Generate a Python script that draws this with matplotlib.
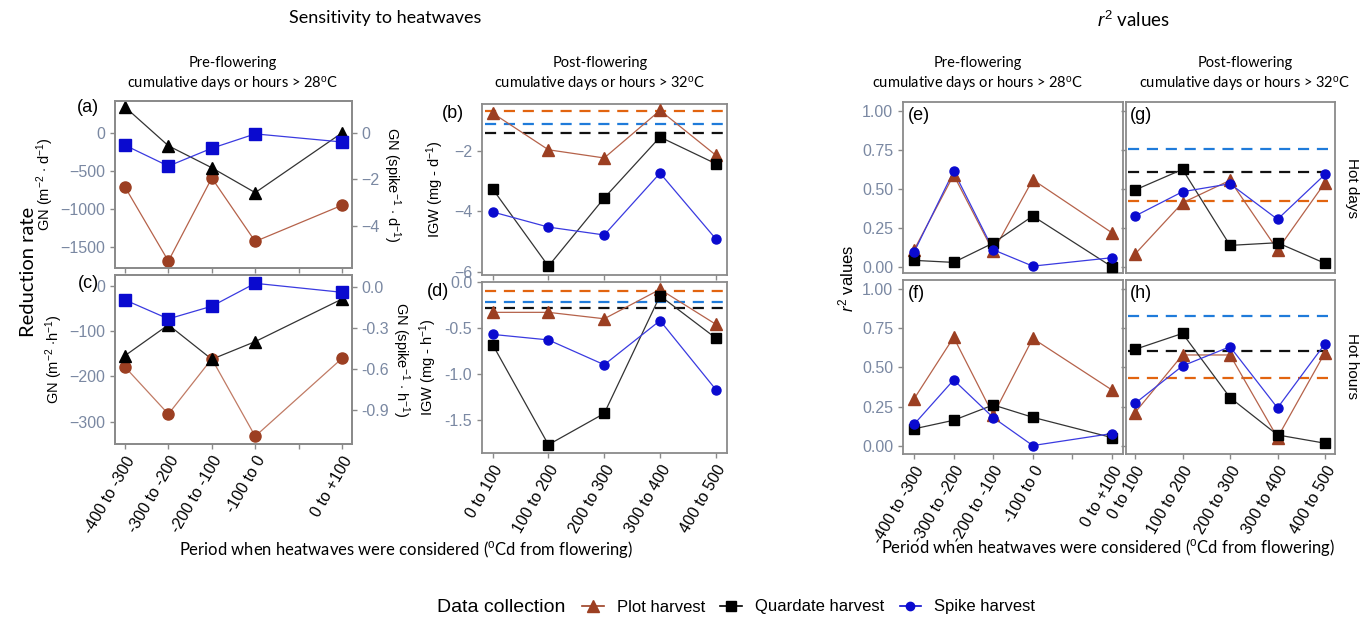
import numpy as np
import matplotlib
matplotlib.use('Agg')
from matplotlib import pyplot as plt
from matplotlib.lines import Line2D

plt.rcParams['font.family'] = ['Liberation Sans', 'DejaVu Sans']
plt.rcParams['mathtext.fontset'] = 'custom'
plt.rcParams['mathtext.rm'] = 'Liberation Sans'
plt.rcParams['mathtext.it'] = 'Liberation Sans:italic'

# %%
# categories
pre_labels = ['-400 to -300', '-300 to -200', '-200 to -100', '-100 to 0', '0 to +100']
pre_slots = [0, 1, 2, 3, 5]          # category slot, slot 4 is left empty in the original
post_labels = ['0 to 100', '100 to 200', '200 to 300', '300 to 400', '400 to 500']
post_slots = [0, 1, 2, 3, 4]

# (a) hot days, pre-flowering
a_plot = [-712, -1686, -594, -1428, -952]        # left axis, per m2
a_quad = [340, -170, -459, -786, 0]              # left axis, per m2
a_spike = [-0.53, -1.43, -0.66, -0.04, -0.39]    # right axis, per spike

# (c) hot hours, pre-flowering
c_plot = [-179, -283, -161, -332, -160]
c_quad = [-154, -86, -162, -123, -29]
c_spike = [-0.093, -0.232, -0.139, 0.029, -0.037]

# (b) hot days, post-flowering
b_plot = [-0.76, -1.97, -2.24, -0.67, -2.15]
b_quad = [-3.26, -5.81, -3.56, -1.55, -2.43]
b_spike = [-4.02, -4.52, -4.78, -2.74, -4.91]
b_ref = [-0.70, -1.40, -1.13]                     # plot, quadrate, spike

# (d) hot hours, post-flowering
d_plot = [-0.33, -0.33, -0.40, -0.08, -0.46]
d_quad = [-0.68, -1.77, -1.43, -0.15, -0.61]
d_spike = [-0.57, -0.63, -0.90, -0.42, -1.17]
d_ref = [-0.10, -0.28, -0.22]

# r2 values
e_plot = [0.11, 0.59, 0.10, 0.56, 0.22]
e_quad = [0.043, 0.03, 0.154, 0.327, 0.002]
e_spike = [0.096, 0.615, 0.111, 0.006, 0.06]

g_plot = [0.083, 0.412, 0.556, 0.111, 0.541]
g_quad = [0.494, 0.626, 0.139, 0.156, 0.024]
g_spike = [0.327, 0.483, 0.534, 0.306, 0.594]
g_ref = [0.421, 0.607, 0.759]

f_plot = [0.299, 0.693, 0.196, 0.686, 0.356]
f_quad = [0.107, 0.162, 0.260, 0.181, 0.051]
f_spike = [0.136, 0.420, 0.179, 0.0, 0.077]

h_plot = [0.211, 0.580, 0.580, 0.051, 0.595]
h_quad = [0.616, 0.718, 0.307, 0.068, 0.015]
h_spike = [0.270, 0.510, 0.633, 0.241, 0.652]
h_ref = [0.435, 0.608, 0.829]

# %%
BROWN = '#9C3F22'
BLUE = '#0A0ACF'
BLACK = '#000000'
REF_COL = ['#E2640F', '#111111', '#1F7BDA']
TICK_COL = '#7A88A2'
FRAME = '#8A8A8A'
W, H = 1368, 621

fig = plt.figure(figsize=(W / 100, H / 100), dpi=100)


def box(x0, y0, x1, y1):  # pixel box -> axes
    ax = fig.add_axes([x0 / W, 1 - y1 / H, (x1 - x0) / W, (y1 - y0) / H])
    return ax


def style(ax, right=False):
    for s in ax.spines.values():
        s.set_color(FRAME)
        s.set_linewidth(1.3)
    ax.tick_params(colors=FRAME, labelsize=11.5, length=3.5, width=1)
    ax.tick_params(axis='y', labelcolor=TICK_COL)
    ax.tick_params(axis='x', labelcolor='black')


def series(ax, x, y, col, mk, ms, lc=None, lw=0.9):
    ax.plot(x, y, color=lc or col, linewidth=lw, zorder=2)
    ax.plot(x, y, linestyle='none', marker=mk, markersize=ms, color=col, zorder=3)


def xcats(ax, slots, labels, show, nslots):
    ax.set_xticks(range(nslots))
    if show:
        lab = [''] * nslots
        for s, l in zip(slots, labels):
            lab[s] = l
        ax.set_xticklabels(lab, rotation=60, ha='right', rotation_mode='anchor',
                           fontsize=11)
    else:
        ax.set_xticklabels([])


def refs(ax, vals, xlim):
    for v, c in zip(vals, REF_COL):
        ax.hlines(v, xlim[0] + 0.05, xlim[1] - 0.05, colors=c, linestyles=(0, (5, 3.5)),
                  linewidth=1.6, zorder=1)


# %% panel (a)
ax = box(115, 101, 352, 268)
series(ax, pre_slots, a_plot, BROWN, 'o', 8, lc='#B5624A')
series(ax, pre_slots, a_quad, BLACK, '^', 9, lc='#333333')
ax.set_xlim(-0.23, 5.23)
ax.set_ylim(-1777, 419)
ax.set_yticks([0, -500, -1000, -1500])
xcats(ax, pre_slots, pre_labels, False, 6)
style(ax)
ax.set_ylabel('GN (m$^{-2}$ $\\cdot$ d$^{-1}$)', fontsize=10.5, labelpad=3)
ax2 = ax.twinx()
series(ax2, pre_slots, a_spike, BLUE, 's', 8, lc='#3A3AE0')
ax2.set_ylim(-5.83, 1.38)
ax2.set_yticks([0, -2, -4])
style(ax2)
ax2.set_ylabel('GN (spike$^{-1}$ $\\cdot$ d$^{-1}$)', fontsize=10.5, rotation=270, labelpad=16)
fig.text(88 / W, 1 - 108 / H, '(a)', fontsize=13, ha='center', va='center')

# %% panel (c)
ax = box(115, 275, 352, 444)
series(ax, pre_slots, c_plot, BROWN, 'o', 8, lc='#C07A64')
series(ax, pre_slots, c_quad, BLACK, '^', 9, lc='#333333')
ax.set_xlim(-0.23, 5.23)
ax.set_ylim(-349, 24)
ax.set_yticks([0, -100, -200, -300])
xcats(ax, pre_slots, pre_labels, True, 6)
style(ax)
ax.set_ylabel('GN (m$^{-2}$ $\\cdot$h$^{-1}$)', fontsize=10.5, labelpad=3)
ax2 = ax.twinx()
series(ax2, pre_slots, c_spike, BLUE, 's', 8, lc='#3A3AE0')
ax2.set_ylim(-1.15, 0.09)
ax2.set_yticks([0.0, -0.3, -0.6, -0.9])
ax2.set_yticklabels(['0.0', '-0.3', '-0.6', '-0.9'])
style(ax2)
ax2.set_ylabel('GN (spike$^{-1}$ $\\cdot$ h$^{-1}$)', fontsize=10.5, rotation=270, labelpad=16)
fig.text(88 / W, 1 - 283 / H, '(c)', fontsize=13, ha='center', va='center')

# %% panel (b)
ax = box(482, 104, 727, 275)
xl = (-0.19, 4.2)
refs(ax, b_ref, xl)
series(ax, post_slots, b_plot, BROWN, '^', 8, lc='#B5624A')
series(ax, post_slots, b_quad, BLACK, 's', 7.5, lc='#333333')
series(ax, post_slots, b_spike, BLUE, 'o', 6.5, lc='#3A3AE0')
ax.set_xlim(*xl)
ax.set_ylim(-6.1, -0.46)
ax.set_yticks([-2, -4, -6])
xcats(ax, post_slots, post_labels, False, 5)
style(ax)
ax.set_ylabel('IGW (mg - d$^{-1}$)', fontsize=10.5, labelpad=6)
fig.text(453 / W, 1 - 114 / H, '(b)', fontsize=13, ha='center', va='center')

# %% panel (d)
ax = box(482, 282, 727, 453)
refs(ax, d_ref, xl)
series(ax, post_slots, d_plot, BROWN, '^', 8, lc='#B5624A')
series(ax, post_slots, d_quad, BLACK, 's', 7.5, lc='#333333')
series(ax, post_slots, d_spike, BLUE, 'o', 6.5, lc='#3A3AE0')
ax.set_xlim(*xl)
ax.set_ylim(-1.86, 0.0)
ax.set_yticks([0.0, -0.5, -1.0, -1.5])
ax.set_yticklabels(['0.0', '-0.5', '-1.0', '-1.5'])
xcats(ax, post_slots, post_labels, True, 5)
style(ax)
ax.set_ylabel('IGW (mg - h$^{-1}$)', fontsize=10.5, labelpad=4)
fig.text(438 / W, 1 - 291 / H, '(d)', fontsize=13, ha='center', va='center')

# %% r2 panels
r2_ticks = [0, 0.25, 0.5, 0.75, 1.0]
r2_panels = [
    ('e', (903, 102, 1123, 273), e_plot, e_quad, e_spike, None, True, False),
    ('g', (1126, 102, 1335, 273), g_plot, g_quad, g_spike, g_ref, False, False),
    ('f', (903, 280, 1123, 454), f_plot, f_quad, f_spike, None, True, True),
    ('h', (1126, 280, 1335, 454), h_plot, h_quad, h_spike, h_ref, False, True),
]
for name, bx, yp, yq, ys, rv, left, bottom in r2_panels:
    ax = box(*bx)
    if name in 'ef':
        slots, labels, n, xl = pre_slots, pre_labels, 6, (-0.28, 5.28)
    else:
        slots, labels, n, xl = post_slots, post_labels, 5, (-0.19, 4.21)
    if rv is not None:
        refs(ax, rv, xl)
    series(ax, slots, yp, BROWN, '^', 8, lc='#B5624A')
    series(ax, slots, yq, BLACK, 's', 7.5, lc='#333333')
    series(ax, slots, ys, BLUE, 'o', 6.5, lc='#3A3AE0')
    ax.set_xlim(*xl)
    if bottom:
        ax.set_ylim(-0.054, 1.06)
    else:
        ax.set_ylim(-0.038, 1.058)
    ax.set_yticks(r2_ticks)
    ax.set_yticklabels(['0.00', '0.25', '0.50', '0.75', '1.00'] if left else [])
    xcats(ax, slots, labels, bottom, n)
    style(ax)
    if not bottom:
        ax.tick_params(axis='x', length=0)
    ax.text(0.02, 0.97, '(' + name + ')', transform=ax.transAxes, fontsize=13,
            ha='left', va='top')

fig.text(1352 / W, 1 - 188 / H, 'Hot days', rotation=270, fontsize=11, ha='center', va='center')
fig.text(1352 / W, 1 - 366 / H, 'Hot hours', rotation=270, fontsize=11, ha='center', va='center')
fig.text(846 / W, 1 - 278 / H, '$r^2$ values', rotation=90, fontsize=12, ha='center', va='center')

# %% titles and labels
cal = ['Lato', 'DejaVu Sans']
fig.text(385 / W, 1 - 18 / H, 'Sensitivity to heatwaves', fontsize=13, family=cal,
         ha='center', va='center')
fig.text(1133 / W, 1 - 20 / H, '$r^2$ values', fontsize=13.5, family=cal,
         ha='center', va='center')
sub_pre = 'Pre-flowering\ncumulative days or hours > 28$^{\\mathrm{o}}$C'
sub_post = 'Post-flowering\ncumulative days or hours > 32$^{\\mathrm{o}}$C'
for cx, s in [(233, sub_pre), (600, sub_post), (978, sub_pre), (1245, sub_post)]:
    fig.text(cx / W, 1 - 75 / H, s, fontsize=10.5, family=cal, ha='center',
             va='center', linespacing=1.35)
xlab = 'Period when heatwaves were considered ($^{\\mathrm{o}}$Cd from flowering)'
fig.text(406 / W, 1 - 549 / H, xlab, fontsize=12, family=cal, ha='center', va='center')
fig.text(1108 / W, 1 - 548 / H, xlab, fontsize=12, family=cal, ha='center', va='center')
fig.text(28 / W, 1 - 272 / H, 'Reduction rate', rotation=90, fontsize=14.5, family=cal,
         ha='center', va='center')

# %% legend
fig.text(437 / W, 1 - 607 / H, 'Data collection', fontsize=14, ha='left', va='center')
handles = [
    Line2D([], [], color=BROWN, marker='^', markersize=8, linewidth=1.2),
    Line2D([], [], color=BLACK, marker='s', markersize=7, linewidth=1.2),
    Line2D([], [], color=BLUE, marker='o', markersize=6, linewidth=1.2),
]
fig.legend(handles, ['Plot harvest', 'Quardate harvest', 'Spike harvest'], ncol=3,
           loc='center left', bbox_to_anchor=(582 / W, 1 - 607 / H), frameon=False,
           fontsize=12, handlelength=1.3, handletextpad=0.8, columnspacing=0.9,
           borderaxespad=0, borderpad=0)

fig.savefig('out.png', dpi=100)
